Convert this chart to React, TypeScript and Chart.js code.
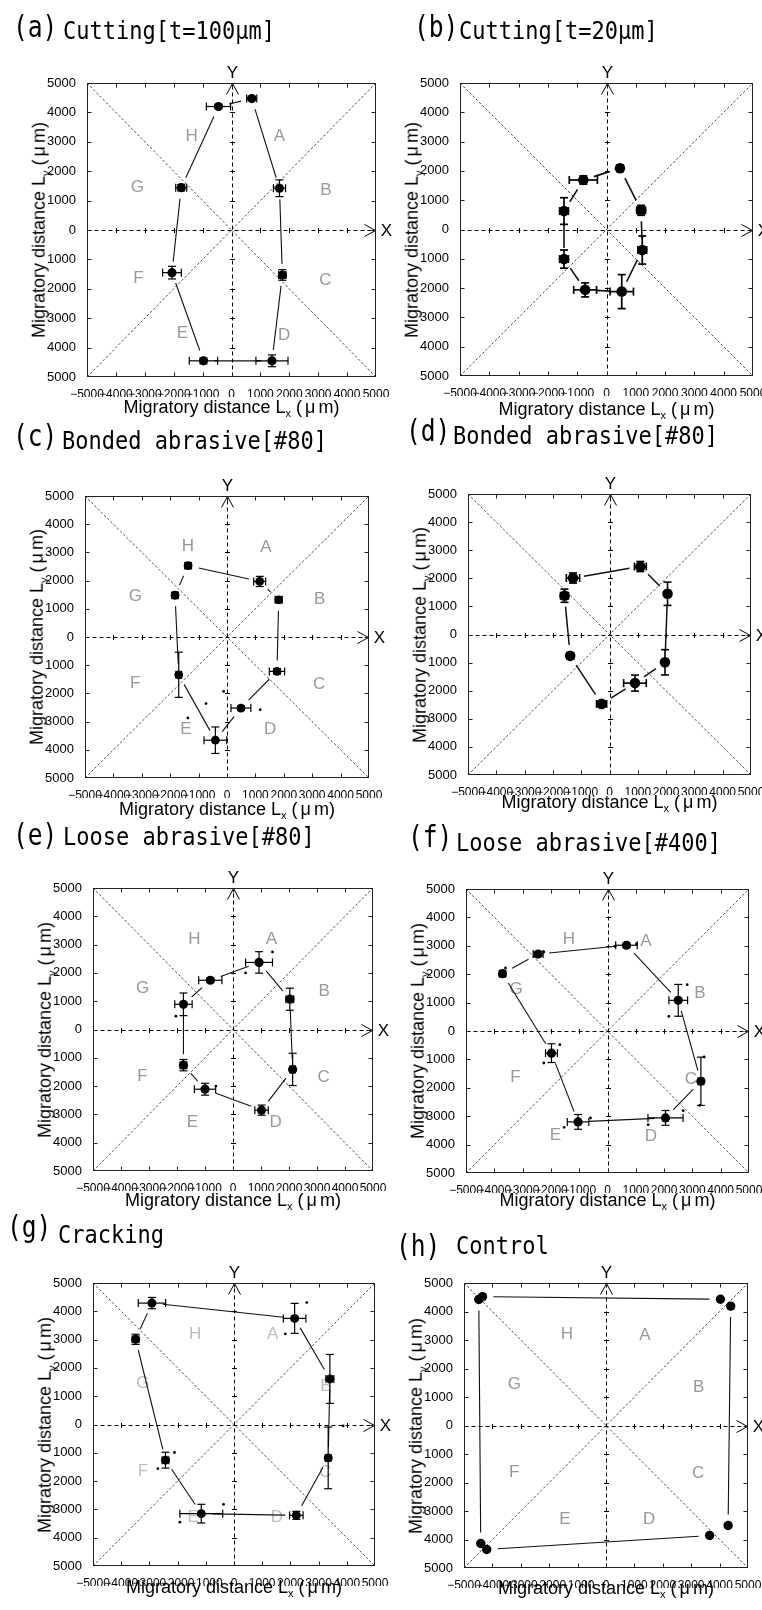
import React, { useEffect, useRef } from "react";
import { Chart, registerables } from "chart.js";
Chart.register(...registerables);

const SANS = '"Liberation Sans", Arial, Helvetica, sans-serif';
const MONO = '"DejaVu Sans Mono", "Liberation Mono", monospace';

// axis tick values (both axes)
const tickValues = [-5000, -4000, -3000, -2000, -1000, 0, 1000, 2000, 3000, 4000, 5000];

// region letters, in the order the points are listed (H, A, B, C, D, E, F, G)
const regionNames = ["H", "A", "B", "C", "D", "E", "F", "G"];
const labelX = [-1380, 1370, 3260, 3240, 1520, -1450, -3230, -3230];
const labelY = [3200, 3180, 1340, -1680, -3290, -3290, -1640, 1460];
const aLabelX = [-1375, 1660, 3270, 3245, 1825, -1700, -3220, -3255];
const aLabelY = [3180, 3180, 1340, -1700, -3580, -3520, -1650, 1455];
const fLabelX = [-1366, 1355, 3263, 2945, 1531, -1837, -3251, -3227];
const fLabelY = [3216, 3157, 1338, -1690, -3709, -3685, -1631, 1479];

// (a) Cutting[t=100um]
const aX = [-450, 700, 1660, 1760, 1400, -970, -2060, -1740];
const aY = [4200, 4470, 1420, -1530, -4450, -4450, -1450, 1440];
const aXErr = [420, 175, 210, 130, 555, 490, 325, 190];
const aYErr = [60, 60, 285, 180, 200, 100, 215, 110];

// (b) Cutting[t=20um]
const bX = [-790, 460, 1180, 1220, 520, -730, -1450, -1450];
const bY = [1690, 2090, 655, -700, -2120, -2060, -1010, 630];
const bXErr = [480, 100, 150, 150, 400, 390, 150, 150];
const bYErr = [140, 100, 170, 480, 580, 240, 310, 455];

// (c) Bonded abrasive[#80]
const cX = [-1370, 1150, 1820, 1760, 490, -410, -1700, -1830];
const cY = [2530, 1970, 1320, -1220, -2520, -3660, -1340, 1480];
const cXErr = [100, 210, 120, 270, 350, 400, 100, 100];
const cYErr = [100, 180, 100, 100, 80, 470, 800, 100];
const cDotX = [-740, -1380, -120, 1170];
const cDotY = [-2360, -2870, -1930, -2580];

// (d) Bonded abrasive[#80]
const dX = [-1290, 1090, 2050, 1960, 900, -280, -1390, -1590];
const dY = [2010, 2420, 1450, -990, -1730, -2470, -760, 1380];
const dXErr = [235, 210, 100, 100, 400, 180, 120, 140];
const dYErr = [180, 180, 415, 450, 285, 100, 100, 235];

// (e) Loose abrasive[#80]
const eX = [-810, 930, 2030, 2130, 1020, -1000, -1770, -1770];
const eY = [1740, 2370, 1070, -1410, -2850, -2110, -1260, 890];
const eXErr = [415, 480, 140, 100, 240, 380, 120, 310];
const eYErr = [80, 380, 390, 570, 180, 210, 200, 400];
const eDotX = [1410, 450, -2040, -610];
const eDotY = [2740, 2000, 470, -2000];

// (f) Loose abrasive[#400]
const fX = [-2450, 670, 2500, 3300, 2050, -1040, -1980, -3710];
const fY = [2710, 3020, 1080, -1770, -3060, -3200, -780, 2020];
const fXErr = [175, 380, 330, 100, 620, 380, 210, 100];
const fYErr = [80, 80, 560, 850, 260, 260, 330, 100];
const fDotX = [260, 1025, 2167, 2815, 3416, 3263, 1437, 2674, -1531, -601, -2250, -1684, -3781, -3604, -2591, -2250];
const fDotY = [2981, 3063, 516, 1631, -915, -2617, -3298, -2805, -3392, -3063, -1127, -481, 1948, 2218, 2629, 2782];

// (g) Cracking
const gX = [-2910, 2150, 3400, 3340, 2210, -1160, -2430, -3490];
const gY = [4290, 3750, 1610, -1180, -3210, -3150, -1260, 3010];
const gXErr = [485, 400, 140, 100, 240, 760, 120, 120];
const gYErr = [200, 530, 865, 1090, 140, 330, 280, 180];
const gDotX = [-2110, -2700, 2580, 1820, -370, -1920, 3870];
const gDotY = [-990, -1560, 4310, 3200, -2820, -3450, -50];

// (h) Control
const hX = [-4480, -4350, 4030, 4390, 4300, 3650, -4200, -4410];
const hY = [4420, 4520, 4430, 4190, -3510, -3860, -4350, -4140];
const hXErr = [0, 0, 0, 0, 0, 0, 0, 0];
const hYErr = [0, 0, 0, 0, 0, 0, 0, 0];

const panels = [
  { tag: "(a)", title: "Cutting[t=100\u03bcm]", xs: aX, ys: aY, xe: aXErr, ye: aYErr, dx: [], dy: [], lx: aLabelX, ly: aLabelY, regions: true, regionColor: "#999",
    plot: [87, 83, 376, 377], tagPos: [13, 28], titlePos: [63, 30], xlabOff: 33, r: 4.6, lw: 1.1 },
  { tag: "(b)", title: "Cutting[t=20\u03bcm]", xs: bX, ys: bY, xe: bXErr, ye: bYErr, dx: [], dy: [], lx: labelX, ly: labelY, regions: false, regionColor: "#999",
    plot: [460, 83, 753, 376], tagPos: [414, 28], titlePos: [459, 30], xlabOff: 36, r: 5.3, lw: 1.6 },
  { tag: "(c)", title: "Bonded abrasive[#80]", xs: cX, ys: cY, xe: cXErr, ye: cYErr, dx: cDotX, dy: cDotY, lx: labelX, ly: labelY, regions: true, regionColor: "#999",
    plot: [85, 496, 369, 778], tagPos: [13, 437], titlePos: [62, 440], xlabOff: 34, r: 4.4, lw: 1.1 },
  { tag: "(d)", title: "Bonded abrasive[#80]", xs: dX, ys: dY, xe: dXErr, ye: dYErr, dx: [], dy: [], lx: labelX, ly: labelY, regions: false, regionColor: "#999",
    plot: [468, 494, 751, 775], tagPos: [406, 432], titlePos: [453, 435], xlabOff: 30, r: 5.3, lw: 1.5 },
  { tag: "(e)", title: "Loose abrasive[#80]", xs: eX, ys: eY, xe: eXErr, ye: eYErr, dx: eDotX, dy: eDotY, lx: labelX, ly: labelY, regions: true, regionColor: "#999",
    plot: [93, 888, 373, 1171], tagPos: [13, 836], titlePos: [63, 836], xlabOff: 32, r: 4.6, lw: 1.1 },
  { tag: "(f)", title: "Loose abrasive[#400]", xs: fX, ys: fY, xe: fXErr, ye: fYErr, dx: fDotX, dy: fDotY, lx: fLabelX, ly: fLabelY, regions: true, regionColor: "#999",
    plot: [466, 889, 749, 1173], tagPos: [408, 838], titlePos: [456, 842], xlabOff: 30, r: 4.6, lw: 1.1 },
  { tag: "(g)", title: "Cracking", xs: gX, ys: gY, xe: gXErr, ye: gYErr, dx: gDotX, dy: gDotY, lx: labelX, ly: labelY, regions: true, regionColor: "#bdbdbd",
    plot: [93, 1283, 375, 1566], tagPos: [7, 1228], titlePos: [58, 1234], xlabOff: 24, r: 4.5, lw: 1.1 },
  { tag: "(h)", title: "Control", xs: hX, ys: hY, xe: hXErr, ye: hYErr, dx: [], dy: [], lx: labelX, ly: labelY, regions: true, regionColor: "#999",
    plot: [464, 1283, 748, 1568], tagPos: [396, 1247], titlePos: [456, 1245], xlabOff: 23, r: 4.7, lw: 1.1 },
];

const fmt = (v: number) => (v < 0 ? "\u2212" + Math.abs(v) : String(v));

function makeDecor(p: any) {
  return {
    id: "decor",
    beforeDatasetsDraw(chart: any) {
      const { ctx, chartArea: a, scales } = chart;
      const sx = scales.x, sy = scales.y;
      const X = (v: number) => sx.getPixelForValue(v);
      const Y = (v: number) => sy.getPixelForValue(v);
      const seg = (x1: number, y1: number, x2: number, y2: number) => {
        ctx.beginPath(); ctx.moveTo(x1, y1); ctx.lineTo(x2, y2); ctx.stroke();
      };
      const L = a.left + 0.5, R = a.right - 0.5, T = a.top + 0.5, B = a.bottom - 0.5;
      ctx.save();
      // diagonals
      ctx.strokeStyle = "#111"; ctx.lineWidth = 0.75; ctx.setLineDash([2.5, 2]);
      seg(X(-5000), Y(5000), X(5000), Y(-5000));
      seg(X(-5000), Y(-5000), X(5000), Y(5000));
      // dashed axes
      const x0 = Math.round(X(0)) + 0.5, y0 = Math.round(Y(0)) + 0.5;
      ctx.strokeStyle = "#000"; ctx.lineWidth = 1; ctx.setLineDash([4, 3]);
      seg(L, y0, R - 1, y0);
      seg(x0, B, x0, T + 1);
      ctx.setLineDash([]);
      sx.ticks.forEach((t: any) => {
        if (t.value !== 0 && Math.abs(t.value) < 5000) seg(Math.round(X(t.value)) + 0.5, y0 - 2.5, Math.round(X(t.value)) + 0.5, y0 + 2.5);
      });
      sy.ticks.forEach((t: any) => {
        if (t.value !== 0 && Math.abs(t.value) < 5000) seg(x0 - 2.5, Math.round(Y(t.value)) + 0.5, x0 + 2.5, Math.round(Y(t.value)) + 0.5);
      });
      // arrows
      ctx.lineWidth = 1;
      seg(R - 11, y0 - 6, R, y0); seg(R, y0, R - 11, y0 + 6);
      seg(x0 - 6, T + 11, x0, T); seg(x0, T, x0 + 6, T + 11);
      // frame with inward ticks
      ctx.strokeStyle = "#222"; ctx.lineWidth = 1;
      ctx.strokeRect(L, T, R - L, B - T);
      sx.ticks.forEach((t: any) => {
        if (Math.abs(t.value) < 5000) {
          const px = Math.round(X(t.value)) + 0.5;
          seg(px, B, px, B - 4); seg(px, T, px, T + 4);
        }
      });
      sy.ticks.forEach((t: any) => {
        if (Math.abs(t.value) < 5000) {
          const py = Math.round(Y(t.value)) + 0.5;
          seg(L, py, L + 4, py); seg(R, py, R - 4, py);
        }
      });
      // X / Y axis names
      ctx.fillStyle = "#000"; ctx.font = "17px " + SANS;
      ctx.textAlign = "center"; ctx.textBaseline = "middle";
      ctx.fillText("X", R + 11, y0 + 1);
      ctx.fillText("Y", x0, T - 10);
      // region letters
      if (p.regions) {
        ctx.fillStyle = p.regionColor; ctx.font = "17px " + SANS;
        regionNames.forEach((n, i) => ctx.fillText(n, X(p.lx[i]), Y(p.ly[i])));
      }
      // connecting segments (trimmed near markers)
      const pts = p.xs.map((v: number, i: number) => [X(v), Y(p.ys[i])]);
      const trim = 11;
      ctx.strokeStyle = "#111"; ctx.lineWidth = p.lw;
      for (let i = 0; i < pts.length; i++) {
        const [x1, y1] = pts[i];
        const [x2, y2] = pts[(i + 1) % pts.length];
        const d = Math.hypot(x2 - x1, y2 - y1);
        if (d <= 2 * trim + 3) continue;
        const ux = (x2 - x1) / d, uy = (y2 - y1) / d;
        seg(x1 + ux * trim, y1 + uy * trim, x2 - ux * trim, y2 - uy * trim);
      }
      // error bars
      ctx.strokeStyle = "#000"; ctx.lineWidth = p.lw + 0.1;
      const cap = 4;
      p.xs.forEach((v: number, i: number) => {
        const px = X(v), py = Y(p.ys[i]);
        if (p.xe[i] > 0) {
          const xl = X(v - p.xe[i]), xr = X(v + p.xe[i]);
          seg(xl, py, xr, py); seg(xl, py - cap, xl, py + cap); seg(xr, py - cap, xr, py + cap);
        }
        if (p.ye[i] > 0) {
          const yt = Y(p.ys[i] + p.ye[i]), yb = Y(p.ys[i] - p.ye[i]);
          seg(px, yt, px, yb); seg(px - cap, yt, px + cap, yt); seg(px - cap, yb, px + cap, yb);
        }
      });
      ctx.restore();
    },
  };
}

function Panel({ p }: { p: any }) {
  const ref = useRef<HTMLCanvasElement | null>(null);
  const [pl, pt, pr, pb] = p.plot;
  const cl = pl < 381 ? 0 : 381;
  const cw = 400;
  const ct = pt - 60;
  const ch = pb - pt + 100;
  useEffect(() => {
    const chart = new Chart(ref.current as HTMLCanvasElement, {
      type: "scatter",
      data: {
        datasets: [
          {
            data: p.xs.map((v: number, i: number) => ({ x: v, y: p.ys[i] })),
            pointRadius: p.r, pointHoverRadius: p.r,
            pointBackgroundColor: "#000", pointBorderColor: "#000", pointBorderWidth: 0,
            showLine: false,
          },
          {
            data: p.dx.map((v: number, i: number) => ({ x: v, y: p.dy[i] })),
            pointRadius: 1.4, pointHoverRadius: 1.4,
            pointBackgroundColor: "#000", pointBorderColor: "#000", pointBorderWidth: 0,
            showLine: false,
          },
        ],
      },
      options: {
        responsive: false,
        animation: false,
        devicePixelRatio: 1,
        events: [],
        layout: { padding: { left: pl - cl - 40, top: 60, right: cl + cw - pr, bottom: 20 } },
        plugins: { legend: { display: false }, tooltip: { enabled: false }, title: { display: false } },
        scales: {
          x: {
            type: "linear", position: "bottom", min: -5000, max: 5000,
            grid: { display: false }, border: { display: false },
            afterBuildTicks: (s: any) => { s.ticks = tickValues.map((v) => ({ value: v })); },
            afterFit: (s: any) => { s.height = 20; s.paddingLeft = 0; s.paddingRight = 0; },
            ticks: { autoSkip: false, maxRotation: 0, minRotation: 0, padding: 2, color: "#000", font: { family: SANS, size: 12, lineHeight: 1.2 }, callback: (v: any) => fmt(Number(v)) },
          },
          y: {
            type: "linear", position: "left", min: -5000, max: 5000,
            grid: { display: false }, border: { display: false },
            afterBuildTicks: (s: any) => { s.ticks = tickValues.map((v) => ({ value: v })); },
            afterFit: (s: any) => { s.width = 40; s.paddingTop = 0; s.paddingBottom = 0; },
            ticks: { autoSkip: false, padding: 3, color: "#000", font: { family: SANS, size: 13 }, callback: (v: any) => fmt(Number(v)) },
          },
        },
      } as any,
      plugins: [makeDecor(p)],
    });
    return () => chart.destroy();
  }, []);
  const cx = (pl + pr) / 2, cy = (pt + pb) / 2;
  const tagFs = 30, txtFs = 25;
  const labStyle: any = { position: "absolute", fontFamily: SANS, fontSize: 18, lineHeight: "20px", whiteSpace: "nowrap", color: "#000" };
  const mu = <span style={{ margin: "0 3px 0 3px" }}>&#956;</span>;
  return (
    <>
      <canvas ref={ref} width={cw} height={ch}
        style={{ position: "absolute", left: cl, top: ct, width: cw, height: ch }} />
      <div style={{ position: "absolute", left: p.tagPos[0], top: p.tagPos[1] - 0.53 * tagFs, fontFamily: MONO, fontSize: tagFs, lineHeight: `${tagFs}px`, whiteSpace: "nowrap", color: "#000", transform: "scaleX(0.82)", transformOrigin: "left center" }}>{p.tag}</div>
      <div style={{ position: "absolute", left: p.titlePos[0], top: p.titlePos[1] - 0.48 * txtFs, fontFamily: MONO, fontSize: txtFs, lineHeight: `${txtFs}px`, whiteSpace: "nowrap", color: "#000", transform: "scaleX(0.88)", transformOrigin: "left center" }}>{p.title}</div>
      <div style={{ ...labStyle, left: cx, top: pb + p.xlabOff, transform: "translate(-50%, -50%)" }}>
        Migratory distance L<sub style={{ fontSize: 11 }}>x</sub> ({mu}m)
      </div>
      <div style={{ ...labStyle, left: pl - 45, top: cy, transform: "translate(-50%, -50%) rotate(-90deg)" }}>
        Migratory distance L<sub style={{ fontSize: 11 }}>y</sub> ({mu}m)
      </div>
    </>
  );
}

export default function App() {
  return (
    <div style={{ position: "absolute", left: 0, top: 0, width: 762, height: 1610, overflow: "hidden", background: "#fff" }}>
      {panels.map((p) => <Panel key={p.tag} p={p} />)}
    </div>
  );
}
